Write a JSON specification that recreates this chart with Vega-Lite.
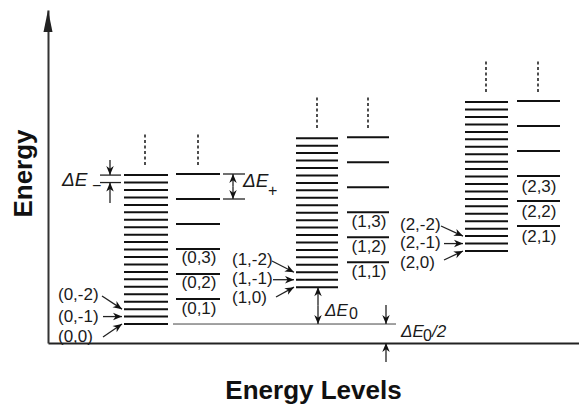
{
  "$schema": "https://vega.github.io/schema/vega-lite/v6.json",
  "width": 531,
  "height": 333,
  "autosize": {"type": "none"},
  "padding": {"left": 48, "top": 10, "right": 0, "bottom": 62},
  "background": "white",
  "config": {"view": {"stroke": null}, "font": "Liberation Sans"},
  "datasets": {
    "levels": [
      {"x": 7.6, "x2": 12.0, "y": 0.52}, {"x": 7.6, "x2": 12.0, "y": 0.724}, {"x": 7.6, "x2": 12.0, "y": 0.928}, {"x": 7.6, "x2": 12.0, "y": 1.132},
      {"x": 7.6, "x2": 12.0, "y": 1.336}, {"x": 7.6, "x2": 12.0, "y": 1.54}, {"x": 7.6, "x2": 12.0, "y": 1.744}, {"x": 7.6, "x2": 12.0, "y": 1.948},
      {"x": 7.6, "x2": 12.0, "y": 2.152}, {"x": 7.6, "x2": 12.0, "y": 2.356}, {"x": 7.6, "x2": 12.0, "y": 2.56}, {"x": 7.6, "x2": 12.0, "y": 2.764},
      {"x": 7.6, "x2": 12.0, "y": 2.968}, {"x": 7.6, "x2": 12.0, "y": 3.172}, {"x": 7.6, "x2": 12.0, "y": 3.376}, {"x": 7.6, "x2": 12.0, "y": 3.58},
      {"x": 7.6, "x2": 12.0, "y": 3.784}, {"x": 7.6, "x2": 12.0, "y": 3.988}, {"x": 7.6, "x2": 12.0, "y": 4.192}, {"x": 7.6, "x2": 12.0, "y": 4.396},
      {"x": 7.6, "x2": 12.0, "y": 4.6},
      {"x": 24.8, "x2": 29.0, "y": 1.53}, {"x": 24.8, "x2": 29.0, "y": 1.734}, {"x": 24.8, "x2": 29.0, "y": 1.938}, {"x": 24.8, "x2": 29.0, "y": 2.142},
      {"x": 24.8, "x2": 29.0, "y": 2.346}, {"x": 24.8, "x2": 29.0, "y": 2.55}, {"x": 24.8, "x2": 29.0, "y": 2.754}, {"x": 24.8, "x2": 29.0, "y": 2.958},
      {"x": 24.8, "x2": 29.0, "y": 3.162}, {"x": 24.8, "x2": 29.0, "y": 3.366}, {"x": 24.8, "x2": 29.0, "y": 3.57}, {"x": 24.8, "x2": 29.0, "y": 3.774},
      {"x": 24.8, "x2": 29.0, "y": 3.978}, {"x": 24.8, "x2": 29.0, "y": 4.182}, {"x": 24.8, "x2": 29.0, "y": 4.386}, {"x": 24.8, "x2": 29.0, "y": 4.59},
      {"x": 24.8, "x2": 29.0, "y": 4.794}, {"x": 24.8, "x2": 29.0, "y": 4.998}, {"x": 24.8, "x2": 29.0, "y": 5.202}, {"x": 24.8, "x2": 29.0, "y": 5.406},
      {"x": 24.8, "x2": 29.0, "y": 5.61},
      {"x": 41.7, "x2": 46.0, "y": 2.52}, {"x": 41.7, "x2": 46.0, "y": 2.724}, {"x": 41.7, "x2": 46.0, "y": 2.928}, {"x": 41.7, "x2": 46.0, "y": 3.132},
      {"x": 41.7, "x2": 46.0, "y": 3.336}, {"x": 41.7, "x2": 46.0, "y": 3.54}, {"x": 41.7, "x2": 46.0, "y": 3.744}, {"x": 41.7, "x2": 46.0, "y": 3.948},
      {"x": 41.7, "x2": 46.0, "y": 4.152}, {"x": 41.7, "x2": 46.0, "y": 4.356}, {"x": 41.7, "x2": 46.0, "y": 4.56}, {"x": 41.7, "x2": 46.0, "y": 4.764},
      {"x": 41.7, "x2": 46.0, "y": 4.968}, {"x": 41.7, "x2": 46.0, "y": 5.172}, {"x": 41.7, "x2": 46.0, "y": 5.376}, {"x": 41.7, "x2": 46.0, "y": 5.58},
      {"x": 41.7, "x2": 46.0, "y": 5.784}, {"x": 41.7, "x2": 46.0, "y": 5.988}, {"x": 41.7, "x2": 46.0, "y": 6.192}, {"x": 41.7, "x2": 46.0, "y": 6.396},
      {"x": 41.7, "x2": 46.0, "y": 6.6},
      {"x": 12.8, "x2": 17.2, "y": 1.205}, {"x": 12.8, "x2": 17.2, "y": 1.89}, {"x": 12.8, "x2": 17.2, "y": 2.575},
      {"x": 12.8, "x2": 17.2, "y": 3.26}, {"x": 12.8, "x2": 17.2, "y": 3.945}, {"x": 12.8, "x2": 17.2, "y": 4.63},
      {"x": 29.9, "x2": 34.1, "y": 2.215}, {"x": 29.9, "x2": 34.1, "y": 2.9}, {"x": 29.9, "x2": 34.1, "y": 3.585},
      {"x": 29.9, "x2": 34.1, "y": 4.27}, {"x": 29.9, "x2": 34.1, "y": 4.955}, {"x": 29.9, "x2": 34.1, "y": 5.64},
      {"x": 46.9, "x2": 51.2, "y": 3.205}, {"x": 46.9, "x2": 51.2, "y": 3.89}, {"x": 46.9, "x2": 51.2, "y": 4.575},
      {"x": 46.9, "x2": 51.2, "y": 5.26}, {"x": 46.9, "x2": 51.2, "y": 5.945}, {"x": 46.9, "x2": 51.2, "y": 6.63}
    ],
    "ground": [{"x": 12.5, "x2": 34.8, "y": 0.52}],
    "ticks": [
      {"x": 5.2, "x2": 7.3, "y": 4.6}, {"x": 5.2, "x2": 7.3, "y": 4.396},
      {"x": 17.5, "x2": 19.7, "y": 4.63}, {"x": 17.5, "x2": 19.7, "y": 3.945}
    ],
    "dotted": [
      {"x": 9.7, "y": 4.877, "y2": 5.753}, {"x": 15.0, "y": 4.877, "y2": 5.753},
      {"x": 26.9, "y": 5.89, "y2": 6.767}, {"x": 32.0, "y": 5.89, "y2": 6.767},
      {"x": 43.8, "y": 6.877, "y2": 7.753}, {"x": 49.0, "y": 6.877, "y2": 7.753}
    ],
    "arrows": [
      {"x": 6.2, "y": 4.6, "x2": 6.2, "y2": 5.014, "angle": 180},
      {"x": 6.2, "y": 4.396, "x2": 6.2, "y2": 3.836, "angle": 0},
      {"x": 18.5, "y": 4.63, "x2": 18.5, "y2": 4.29, "angle": 0},
      {"x": 18.5, "y": 3.945, "x2": 18.5, "y2": 4.29, "angle": 180},
      {"x": 7.4, "y": 0.928, "x2": 5.4, "y2": 1.288, "angle": 123},
      {"x": 7.4, "y": 0.724, "x2": 5.5, "y2": 0.724, "angle": 90},
      {"x": 7.4, "y": 0.52, "x2": 5.5, "y2": 0.164, "angle": 56},
      {"x": 24.6, "y": 1.938, "x2": 22.4, "y2": 2.247, "angle": 117},
      {"x": 24.6, "y": 1.734, "x2": 22.5, "y2": 1.734, "angle": 90},
      {"x": 24.6, "y": 1.53, "x2": 22.8, "y2": 1.26, "angle": 61},
      {"x": 41.5, "y": 2.928, "x2": 39.3, "y2": 3.205, "angle": 115},
      {"x": 41.5, "y": 2.724, "x2": 39.6, "y2": 2.724, "angle": 90},
      {"x": 41.5, "y": 2.52, "x2": 39.6, "y2": 2.274, "angle": 65},
      {"x": 27.0, "y": 1.53, "x2": 27.0, "y2": 1.025, "angle": 0},
      {"x": 27.0, "y": 0.52, "x2": 27.0, "y2": 1.025, "angle": 180},
      {"x": 33.8, "y": 0.52, "x2": 33.8, "y2": 1.041, "angle": 180},
      {"x": 33.8, "y": 0.0, "x2": 33.8, "y2": -0.52, "angle": 0}
    ],
    "axisHead": [{"x": 0, "y": 9.123}],
    "sideLabels": [
      {"label": "(0,-2)", "x": 1.0, "y": 1.315}, {"label": "(0,-1)", "x": 1.0, "y": 0.712}, {"label": "(0,0)", "x": 1.0, "y": 0.164},
      {"label": "(1,-2)", "x": 18.4, "y": 2.274}, {"label": "(1,-1)", "x": 18.4, "y": 1.753}, {"label": "(1,0)", "x": 18.4, "y": 1.233},
      {"label": "(2,-2)", "x": 35.2, "y": 3.233}, {"label": "(2,-1)", "x": 35.2, "y": 2.74}, {"label": "(2,0)", "x": 35.2, "y": 2.192}
    ],
    "levelLabels": [
      {"label": "(0,1)", "x": 15.1, "y": 0.932}, {"label": "(0,2)", "x": 15.1, "y": 1.644}, {"label": "(0,3)", "x": 15.1, "y": 2.329},
      {"label": "(1,1)", "x": 32.1, "y": 1.945}, {"label": "(1,2)", "x": 32.1, "y": 2.63}, {"label": "(1,3)", "x": 32.1, "y": 3.315},
      {"label": "(2,1)", "x": 49.1, "y": 2.904}, {"label": "(2,2)", "x": 49.1, "y": 3.589}, {"label": "(2,3)", "x": 49.1, "y": 4.274}
    ],
    "deltaBig": [
      {"label": "ΔE", "x": 1.4, "y": 4.466}, {"label": "ΔE", "x": 19.5, "y": 4.438}
    ],
    "deltaSmall": [
      {"label": "ΔE", "x": 27.7, "y": 0.877}, {"label": "ΔE", "x": 35.3, "y": 0.301}, {"label": "/2", "x": 38.4, "y": 0.301}
    ],
    "subs": [
      {"label": "−", "x": 4.4, "y": 4.29}, {"label": "+", "x": 22.0, "y": 4.164},
      {"label": "0", "x": 30.1, "y": 0.795}, {"label": "0", "x": 37.5, "y": 0.192}
    ]
  },
  "encoding": {
    "x": {
      "field": "x", "type": "quantitative",
      "scale": {"domain": [0, 53.1], "nice": false, "zero": false},
      "axis": {"title": "Energy Levels", "labels": false, "ticks": false, "grid": false, "domain": true,
        "domainColor": "#222", "domainWidth": 2, "titleFont": "Liberation Sans", "titleFontSize": 26,
        "titleFontWeight": "bold", "titleColor": "#111", "titleX": 265, "titleY": 55,
        "titleAlign": "center", "titleBaseline": "alphabetic"}
    },
    "y": {
      "field": "y", "type": "quantitative",
      "scale": {"domain": [0, 9.123], "nice": false, "zero": false},
      "axis": {"title": "Energy", "labels": false, "ticks": false, "grid": false, "domain": true,
        "domainColor": "#333", "domainWidth": 2, "titleFont": "Liberation Sans", "titleFontSize": 26,
        "titleFontWeight": "bold", "titleColor": "#111", "titleX": -17, "titleY": 163, "titleAngle": -90,
        "titleAlign": "center", "titleBaseline": "alphabetic"}
    }
  },
  "layer": [
    {"data": {"name": "ground"}, "mark": {"type": "rule", "strokeWidth": 1, "color": "#444"}, "encoding": {"x2": {"field": "x2"}}},
    {"data": {"name": "levels"}, "mark": {"type": "rule", "strokeWidth": 2, "color": "#111"}, "encoding": {"x2": {"field": "x2"}}},
    {"data": {"name": "ticks"}, "mark": {"type": "rule", "strokeWidth": 1.3, "color": "#222"}, "encoding": {"x2": {"field": "x2"}}},
    {"data": {"name": "dotted"}, "mark": {"type": "rule", "strokeWidth": 1.6, "color": "#222", "strokeDash": [3, 2.5]}, "encoding": {"y2": {"field": "y2"}}},
    {"data": {"name": "arrows"}, "mark": {"type": "rule", "strokeWidth": 1.3, "color": "#222"}, "encoding": {"x2": {"field": "x2"}, "y2": {"field": "y2"}}},
    {"data": {"name": "arrows"}, "mark": {"type": "point", "shape": "M0,0L1,2.4L0,1.7L-1,2.4Z", "filled": true, "size": 56, "color": "#111", "opacity": 1, "strokeWidth": 0},
      "encoding": {"angle": {"field": "angle", "type": "quantitative", "scale": null}}},
    {"data": {"name": "axisHead"}, "mark": {"type": "point", "shape": "M0,0L1,4.9L-1,4.9Z", "filled": true, "size": 81, "color": "#222", "opacity": 1, "strokeWidth": 0}},
    {"data": {"name": "sideLabels"}, "mark": {"type": "text", "align": "left", "baseline": "middle", "fontSize": 17, "font": "Liberation Sans", "color": "#1a1a1a"},
      "encoding": {"text": {"field": "label"}}},
    {"data": {"name": "levelLabels"}, "mark": {"type": "text", "align": "center", "baseline": "middle", "fontSize": 17, "font": "Liberation Sans", "color": "#1a1a1a"},
      "encoding": {"text": {"field": "label"}}},
    {"data": {"name": "deltaBig"}, "mark": {"type": "text", "align": "left", "baseline": "middle", "fontSize": 19, "fontStyle": "italic", "font": "Liberation Sans", "color": "#1a1a1a"},
      "encoding": {"text": {"field": "label"}}},
    {"data": {"name": "deltaSmall"}, "mark": {"type": "text", "align": "left", "baseline": "middle", "fontSize": 17, "fontStyle": "italic", "font": "Liberation Sans", "color": "#1a1a1a"},
      "encoding": {"text": {"field": "label"}}},
    {"data": {"name": "subs"}, "mark": {"type": "text", "align": "left", "baseline": "middle", "fontSize": 16, "font": "Liberation Sans", "color": "#1a1a1a"},
      "encoding": {"text": {"field": "label"}}}
  ]
}
